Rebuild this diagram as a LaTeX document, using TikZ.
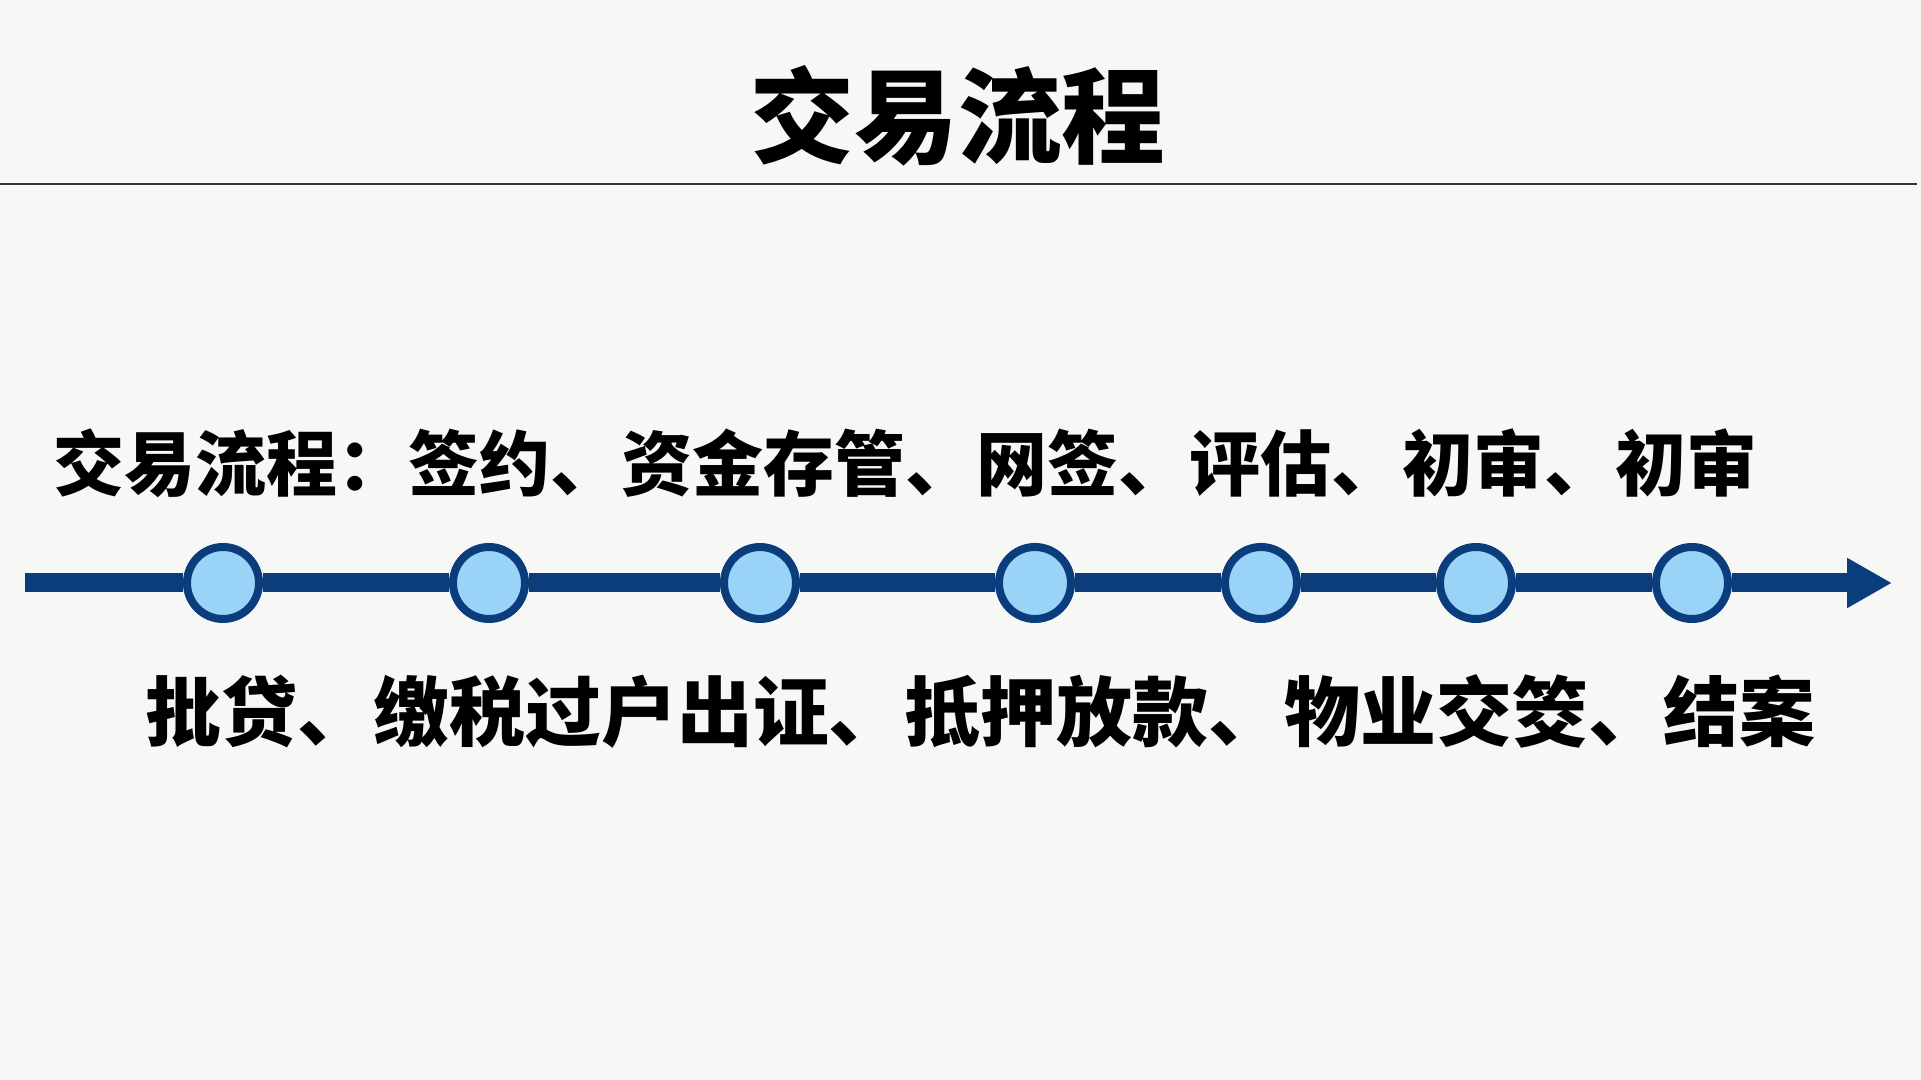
\documentclass[tikz,border=0pt]{standalone}
\usepackage{fontspec}
\newfontfamily\cjk{Noto Sans CJK SC}
\usetikzlibrary{arrows.meta}
\definecolor{navy}{HTML}{0B3C7C}
\definecolor{skyfill}{HTML}{99D3F8}
\definecolor{paper}{HTML}{F7F7F5}

\begin{document}
\begin{tikzpicture}[
  font=\cjk\bfseries,
  stop/.style={circle,draw=navy,fill=skyfill,line width=0.08cm,minimum size=0.72cm,inner sep=0pt},
  axis/.style={navy,line width=0.19cm},
  textline/.style={anchor=west,inner sep=0pt}]
\fill[paper] (0,0) rectangle (19.21,-10.80);
\useasboundingbox (0,0) rectangle (19.21,-10.80);
\node[font=\cjk\bfseries\fontsize{29.5}{34}\selectfont] (title) at (9.58,-1.16) {交易流程};
\coordinate (ruleL) at (0,-1.84);
\coordinate (ruleR) at (19.17,-1.84);
\draw[black!80,line width=0.02cm] (ruleL) -- (ruleR);
\node[textline,font=\cjk\bfseries\fontsize{20.2}{24}\selectfont] (stepsA) at (0.53,-4.63)
  {交易流程：签约、资金存管、网签、评估、初审、初审};
\foreach \x [count=\i] in {2.23,4.89,7.60,10.35,12.61,14.76,16.92} {
  \node[stop] (c\i) at (\x,-5.83) {};
}
\coordinate (axisL) at (0.25,-5.83);
\coordinate (axisR) at (18.92,-5.83);
\draw[axis] (axisL) -- (c1);
\foreach \i in {1,...,6} {
  \pgfmathtruncatemacro{\j}{\i+1}
  \draw[axis] (c\i) -- (c\j);
}
\draw[axis,-{Triangle[length=0.45cm,width=0.47cm]}] (c7) -- (axisR);
\node[textline,font=\cjk\bfseries\fontsize{21.6}{26}\selectfont] (stepsB) at (1.45,-7.11)
  {批贷、缴税过户出证、抵押放款、物业交筊、结案};
\end{tikzpicture}
\end{document}
